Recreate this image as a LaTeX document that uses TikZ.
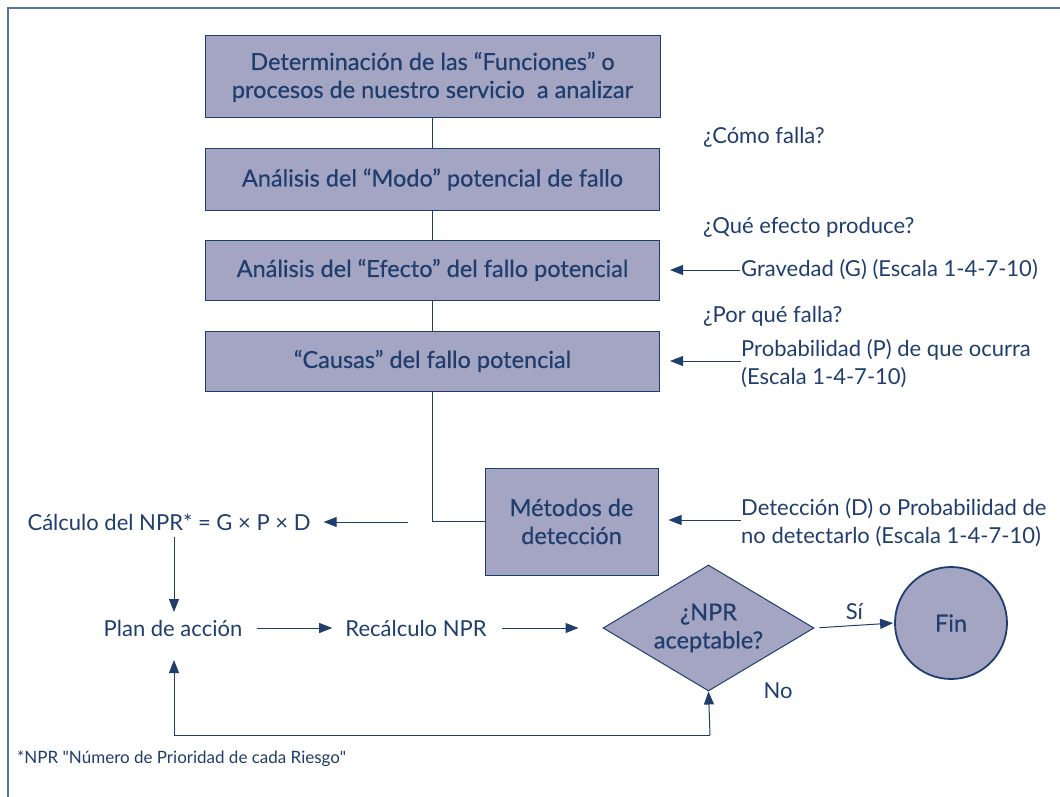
\documentclass[tikz,border=0pt]{standalone}
\usepackage{fontspec}
\setmainfont{Lato}
\newfontfamily\boxfont[FakeBold=0.5]{Lato}
\usetikzlibrary{arrows.meta,shapes.geometric}
\definecolor{navy}{HTML}{1F3D6D}
\definecolor{boxfill}{HTML}{A4A5C2}
\definecolor{framec}{HTML}{5574A4}
\begin{document}
\begin{tikzpicture}[x=1pt,y=-1pt,
  box/.style={draw=navy, fill=boxfill, line width=1pt, text=navy, align=center, inner sep=0pt,
    font=\boxfont\fontsize{23.5}{28}\selectfont},
  lbl/.style={text=navy, anchor=west, inner sep=1pt, align=left, font=\fontsize{22}{28}\selectfont},
  ctr/.style={text=navy, inner sep=1pt, font=\fontsize{22}{28}\selectfont},
  conn/.style={draw=navy, line width=1pt},
  arr/.style={draw=navy, line width=1pt, -{Triangle[length=13pt,width=10pt]}}]
\useasboundingbox (0,0) rectangle (1060,797);
% frame
\draw[framec, line width=2pt] (8,797) -- (8,8) -- (1060,8);
% boxes
\node[box, minimum width=455pt, minimum height=82pt] (b1) at (432.5,77)
  {Determinación de las “Funciones” o\\procesos de nuestro servicio\ \ a analizar};
\node[box, minimum width=454pt, minimum height=61pt] (b2) at (432.5,179.5)
  {Análisis del “Modo” potencial de fallo};
\node[box, minimum width=454pt, minimum height=60pt] (b3) at (432.5,270)
  {Análisis del “Efecto” del fallo potencial};
\node[box, minimum width=454pt, minimum height=60pt] (b4) at (432.5,361)
  {“Causas” del fallo potencial};
\node[box, minimum width=173pt, minimum height=107pt] (b5) at (571.5,521.5)
  {Métodos de\\detección};
\draw[conn] (b1.south) -- (b2.north);
\draw[conn] (b2.south) -- (b3.north);
\draw[conn] (b3.south) -- (b4.north);
\draw[conn] (b4.south) |- (b5.west);
% questions
\node[lbl] (q1) at (702,137) {¿Cómo falla?};
\node[lbl] (q2) at (702,227) {¿Qué efecto produce?};
\node[lbl] (q3) at (702,316) {¿Por qué falla?};
% scales
\node[lbl] (g) at (740,270) {Gravedad (G) (Escala 1-4-7-10)};
\node[lbl] (p) at (740,364) {Probabilidad (P) de que ocurra\\(Escala 1-4-7-10)};
\node[lbl] (d) at (740,523) {Detección (D) o Probabilidad de\\no detectarlo (Escala 1-4-7-10)};
\coordinate (pa) at (741,361);
\coordinate (da) at (741,520);
\draw[arr, shorten >=10pt] (g.west) -- (b3.east);
\draw[arr, shorten >=10pt] (pa) -- (b4.east |- pa);
\draw[arr, shorten >=10pt] (da) -- (b5.east |- da);
% left part
\node[ctr] (calc) at (169,522) {Cálculo del NPR* = G × P × D};
\coordinate (cs) at (408,522);
\draw[arr, shorten >=12pt] (cs) -- (calc.east);
\node[ctr] (plan) at (173,628) {Plan de acción};
\node[ctr] (rec) at (416,628) {Recálculo NPR};
\node[box, diamond, aspect=1.67, minimum width=211pt, minimum height=126pt] (dia) at (708.5,628)
  {¿NPR\\aceptable?};
\node[box, circle, line width=1.8pt, minimum size=112pt] (fin) at (951,623) {Fin};
\coordinate (pt) at (174,537);
\coordinate (pe) at (174,612);
\draw[arr] (pt) -- (pe);
\draw[arr, shorten <=14pt, shorten >=12pt] (plan.east) -- (rec.west);
\draw[arr, shorten <=14pt, shorten >=24pt] (rec.east) -- (dia.west);
\draw[arr, shorten <=5pt, shorten >=1pt] (dia.east) -- (fin.west) node[midway, above=4pt, ctr] (si) {Sí};
\node[ctr] (no) at (778,691) {No};
\coordinate (lb) at (174,735);
\coordinate (rb) at (710,735);
\coordinate (pb) at (174,660);
\draw[arr] (rb) -- (dia.south);
\draw[arr] (rb) -- (lb) -- (pb);
% footnote
\node[lbl, font=\fontsize{17}{20}\selectfont] (fn) at (16,759) {*NPR \textquotedbl Número de Prioridad de cada Riesgo\textquotedbl};
\end{tikzpicture}
\end{document}
